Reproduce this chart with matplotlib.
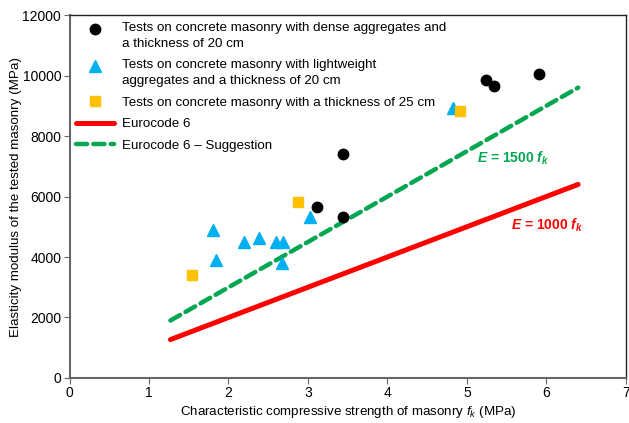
import matplotlib
matplotlib.use("Agg")
import matplotlib.pyplot as plt
from matplotlib.legend_handler import HandlerLine2D

plt.rcParams['font.family'] = ['Liberation Sans', 'DejaVu Sans']
plt.rcParams['mathtext.fontset'] = 'custom'
plt.rcParams['mathtext.it'] = 'Liberation Sans:italic'
plt.rcParams['mathtext.rm'] = 'Liberation Sans'
plt.rcParams['mathtext.bf'] = 'Liberation Sans:bold'
plt.rcParams['mathtext.bfit'] = 'Liberation Sans:italic:bold'

# dense aggregates, 20 cm
dense_fk = [3.12, 3.44, 3.44, 5.24, 5.34, 5.91]
dense_E = [5650, 7400, 5320, 9850, 9650, 10060]
# lightweight aggregates, 20 cm
light_fk = [1.81, 1.84, 2.20, 2.38, 2.60, 2.68, 2.67, 3.03, 4.82]
light_E = [4890, 3900, 4500, 4620, 4480, 4500, 3810, 5330, 8910]
# 25 cm
thick_fk = [1.545, 2.87, 4.91]
thick_E = [3400, 5810, 8840]
# Eurocode 6 lines
ec_fk = [1.27, 6.4]
ec_E = [1270, 6400]
sug_E = [1900, 9600]


# marker on the first line of a two-line legend entry
class UpHandler(HandlerLine2D):
    def __init__(self, shift=0.0, **kw):
        super().__init__(**kw)
        self.shift = shift

    def create_artists(self, legend, orig_handle, xdescent, ydescent, width, height, fontsize, trans):
        return super().create_artists(legend, orig_handle, xdescent, ydescent - 2 * self.shift * fontsize,
                                      width, height, fontsize, trans)


fig = plt.figure(figsize=(6.29, 4.23), dpi=100)
ax = fig.add_axes([0.1105, 0.1064, 0.8845, 0.8581])

h1, = ax.plot(dense_fk, dense_E, 'o', color='black', ms=7.5, ls='none', zorder=4,
              label='Tests on concrete masonry with dense aggregates and\na thickness of 20 cm')
h2, = ax.plot(light_fk, light_E, '^', color='#00B0F0', ms=8, ls='none', zorder=4,
              label='Tests on concrete masonry with lightweight\naggregates and a thickness of 20 cm')
ax.plot(thick_fk, thick_E, 's', color='#FFC000', ms=7, ls='none', zorder=4,
        label='Tests on concrete masonry with a thickness of 25 cm')
ax.plot(ec_fk, ec_E, '-', color='#FF0000', lw=3.6, solid_capstyle='round', label='Eurocode 6')
ax.plot(ec_fk, sug_E, '--', color='#00A650', lw=3.2, dashes=(2.5, 1.4), dash_capstyle='round',
        label='Eurocode 6 \u2013 Suggestion')

ax.text(5.13, 7270, r'$\mathbfit{E}$ = 1500 $\mathbfit{f}_{\mathbfit{k}}$', color='#00A650',
        fontsize=10, fontweight='bold', va='center')
ax.text(5.55, 5060, r'$\mathbfit{E}$ = 1000 $\mathbfit{f}_{\mathbfit{k}}$', color='#FF0000',
        fontsize=10, fontweight='bold', va='center')

ax.set_xlim(0, 7)
ax.set_ylim(0, 12000)
ax.set_xticks(range(0, 8))
ax.set_yticks(range(0, 12001, 2000))
ax.tick_params(labelsize=10, length=4, color='#666666', direction='out', pad=2)
for s in ['left', 'bottom']:
    ax.spines[s].set_color('#666666')
    ax.spines[s].set_linewidth(1.5)
for s in ['top', 'right']:
    ax.spines[s].set_color('#222222')
    ax.spines[s].set_linewidth(1.0)

ax.set_xlabel(r'Characteristic compressive strength of masonry $f_k$ (MPa)', fontsize=9.6, labelpad=3)
ax.set_ylabel('Elasticity modulus of the tested masonry (MPa)', fontsize=9.6, labelpad=0)

leg = ax.legend(loc='upper left', frameon=False, fontsize=9.6, handlelength=2.85, handletextpad=0.6,
                labelspacing=0.7, borderaxespad=0.1, numpoints=1,
                handler_map={h1: UpHandler(0.5), h2: UpHandler(0.5)})
for t in leg.get_texts():
    t.set_linespacing(1.45)

fig.savefig('out.png', dpi=100)
